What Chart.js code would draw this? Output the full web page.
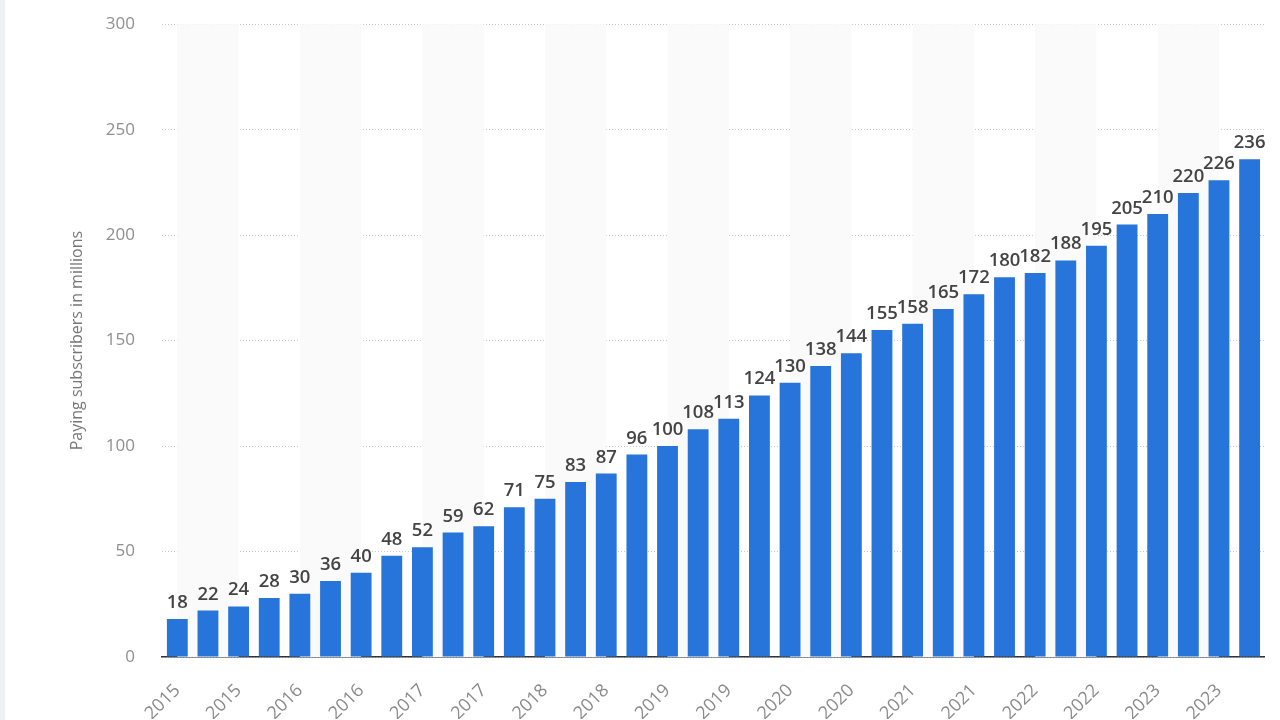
<!DOCTYPE html>
<html>
<head>
<meta charset="utf-8">
<script src="https://cdn.jsdelivr.net/npm/chart.js@4.4.1/dist/chart.umd.min.js"></script>
<style>
  html, body { margin: 0; padding: 0; background: #fff; overflow: hidden; }
  .wrap { position: relative; width: 1280px; height: 720px; overflow: hidden; }
  #chart_subscribers { position: absolute; left: 0; top: -13px; }
  .edge { position: absolute; left: 0; top: 0; width: 5px; height: 720px; background: #eef0f4; }
</style>
</head>
<body>
<div class="wrap">
  <canvas id="chart_subscribers" width="1280" height="732"></canvas>
  <div class="edge"></div>
</div>
<script>
// quarters Q1 2015 .. Q4 2023, one year label per bar
var quarterYears = [
  '2015', '2015', '2015', '2015', '2016', '2016', '2016', '2016',
  '2017', '2017', '2017', '2017', '2018', '2018', '2018', '2018',
  '2019', '2019', '2019', '2019', '2020', '2020', '2020', '2020',
  '2021', '2021', '2021', '2021', '2022', '2022', '2022', '2022',
  '2023', '2023', '2023', '2023'
];

// paying subscribers, millions
var subscribers = [
  18, 22, 24, 28, 30, 36, 40, 48, 52, 59, 62, 71,
  75, 83, 87, 96, 100, 108, 113, 124, 130, 138, 144, 155,
  158, 165, 172, 180, 182, 188, 195, 205, 210, 220, 226, 236
];

var yTicks = [0, 50, 100, 150, 200, 250, 300];

var barColor = '#2775db';

// light bands behind every other pair of bars
var stripes = {
  id: 'stripes',
  beforeDatasetsDraw: function(chart) {
    var ctx = chart.ctx;
    var x = chart.scales.x;
    var area = chart.chartArea;
    ctx.save();
    ctx.fillStyle = '#fafafa';
    for (var i = 0; i + 2 < quarterYears.length; i += 4) {
      var x0 = x.getPixelForValue(i);
      var x1 = x.getPixelForValue(i + 2);
      ctx.fillRect(x0, area.top, x1 - x0, area.bottom - area.top);
    }
    ctx.restore();
  }
};

// value labels over the bars
var valueLabels = {
  id: 'valueLabels',
  afterDatasetsDraw: function(chart) {
    var ctx = chart.ctx;
    var meta = chart.getDatasetMeta(0);
    ctx.save();
    ctx.font = '600 18.5px "Open Sans"';
    ctx.fillStyle = '#444444';
    ctx.textAlign = 'center';
    ctx.textBaseline = 'bottom';
    meta.data.forEach(function(bar, i) {
      ctx.fillText(subscribers[i], bar.x, bar.y - 7);
    });
    ctx.restore();
  }
};

var ctx = document.getElementById('chart_subscribers').getContext('2d');
new Chart(ctx, {
  type: 'bar',
  data: {
    labels: quarterYears,
    datasets: [{
      data: subscribers,
      backgroundColor: barColor,
      barPercentage: 0.68,
      categoryPercentage: 1
    }]
  },
  options: {
    responsive: false,
    animation: false,
    layout: {
      padding: { top: 12, right: 8, left: 68, bottom: 0 }
    },
    plugins: {
      legend: { display: false },
      tooltip: { enabled: false }
    },
    scales: {
      x: {
        grid: { display: false },
        border: { display: true, color: '#333333', width: 1.5 },
        afterFit: function(scale) { scale.height = 62; },
        ticks: {
          autoSkip: false,
          maxRotation: 45,
          minRotation: 45,
          padding: 15,
          color: '#8a8a8a',
          font: { family: 'Open Sans', size: 18 },
          callback: function(value, index) {
            return index % 2 === 0 ? quarterYears[index] : '';
          }
        }
      },
      y: {
        min: 0,
        max: 300,
        afterFit: function(scale) { scale.width = 94; },
        afterBuildTicks: function(scale) {
          scale.ticks = yTicks.map(function(v) { return { value: v }; });
        },
        grid: {
          color: '#c8c8c8',
          lineWidth: 1,
          drawTicks: false
        },
        border: { display: false, dash: [1, 2] },
        ticks: {
          padding: 27,
          color: '#8f8f8f',
          font: { family: 'Open Sans', size: 17 }
        },
        title: {
          display: true,
          text: 'Paying subscribers in millions',
          color: '#777777',
          font: { family: 'Open Sans', size: 16 },
          padding: { top: 0, bottom: 0 }
        }
      }
    }
  },
  plugins: [stripes, valueLabels]
});
</script>
</body>
</html>
